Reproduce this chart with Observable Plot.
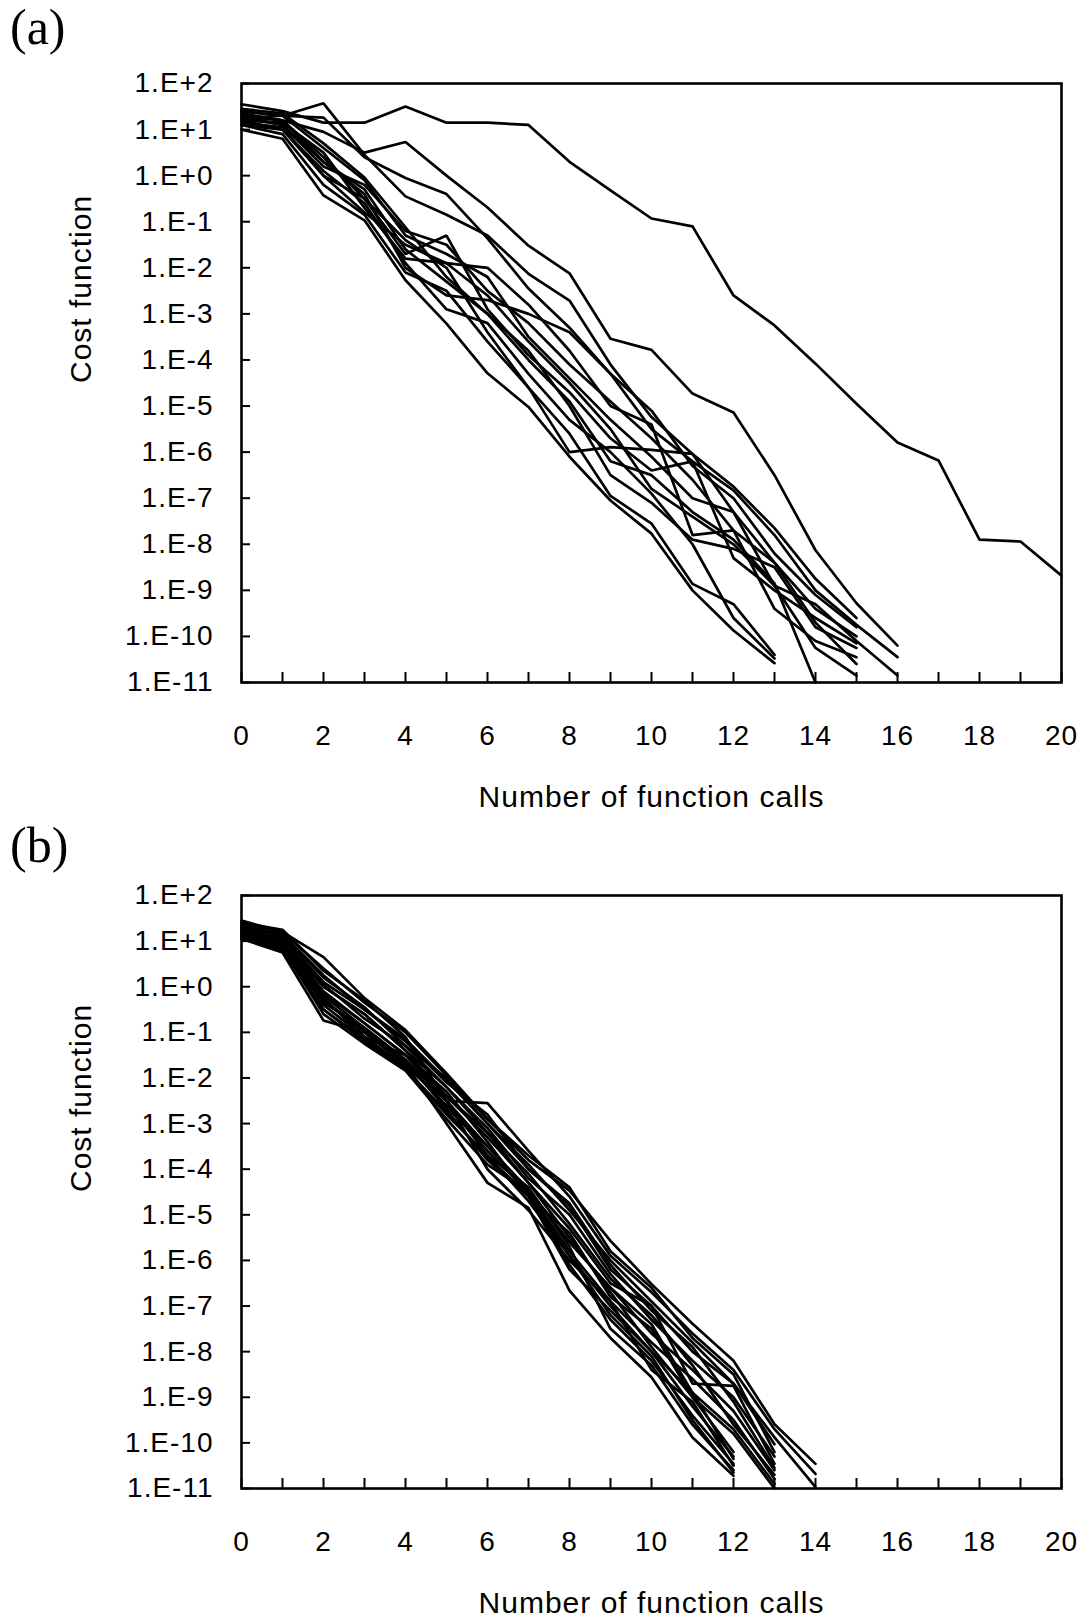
<!DOCTYPE html>
<html>
<head>
<meta charset="utf-8">
<script src="https://cdn.jsdelivr.net/npm/d3@7"></script>
<script src="https://cdn.jsdelivr.net/npm/@observablehq/plot@0.6"></script>
<style>
html, body { margin: 0; padding: 0; background: #fff; }
#page { position: relative; width: 1085px; height: 1623px; overflow: hidden; background: #fff; }
.panel-label { position: absolute; left: 10px; font-family: "Liberation Serif", "Times New Roman", serif; font-size: 50px; line-height: 1; color: #000; }
.panel { position: absolute; left: 0; }
.panel svg text { letter-spacing: 1px; }
</style>
</head>
<body>
<div id="page"></div>
<script>
// ---- axis ticks and labels ----
const xTicks = [0, 1, 2, 3, 4, 5, 6, 7, 8, 9, 10, 11, 12, 13, 14, 15, 16, 17, 18, 19, 20];
const xTickLabels = [0, 2, 4, 6, 8, 10, 12, 14, 16, 18, 20];
const yTicks = [1e2, 1e1, 1e0, 1e-1, 1e-2, 1e-3, 1e-4, 1e-5, 1e-6, 1e-7, 1e-8, 1e-9, 1e-10, 1e-11];
const yTickLabels = ["1.E+2", "1.E+1", "1.E+0", "1.E-1", "1.E-2", "1.E-3", "1.E-4", "1.E-5", "1.E-6", "1.E-7", "1.E-8", "1.E-9", "1.E-10", "1.E-11"];
const xTitle = "Number of function calls";
const yTitle = "Cost function";

// ---- panel (a): log10(cost function) after 0,1,2,... function calls, one array per run ----
const panelA = [
  [1.55, 1.4, 1.15, 1.15, 1.5, 1.15, 1.15, 1.1, 0.3, -0.32, -0.93, -1.1, -2.6, -3.25, -4.08, -4.95, -5.79, -6.18, -7.9, -7.94, -8.68],
  [1.3, 1.2, 0.95, 0.5, 0.73, 0.0, -0.69, -1.52, -2.12, -3.54, -3.78, -4.73, -5.14, -6.5, -8.13, -9.28, -10.2],
  [1.25, 1.3, 1.57, 0.45, -0.45, -0.85, -1.3, -2.13, -2.71, -4.1, -5.24, -6.04, -6.75, -7.65, -8.75, -9.6],
  [1.4, 1.3, 1.26, 0.4, -0.05, -0.4, -1.36, -2.45, -3.3, -4.3, -5.5, -6.2, -6.83, -7.8, -9.0, -9.75, -10.45],
  [1.0, 0.8, -0.43, -0.97, -2.27, -3.21, -4.29, -5.02, -6.1, -7.05, -7.77, -9.0, -9.87, -10.58],
  [1.1, 0.9, -0.2, -0.85, -2.1, -2.5, -3.6, -4.6, -5.6, -6.95, -7.55, -8.86, -9.3, -10.4],
  [1.2, 1.0, 0.1, -0.6, -1.9, -2.9, -3.2, -4.3, -5.3, -6.0, -6.9, -8.0, -9.6, -10.48],
  [1.3, 1.1, 0.3, -0.3, -1.6, -2.3, -3.0, -4.0, -4.9, -6.2, -6.5, -7.3, -7.9, -8.85, -11],
  [1.35, 1.2, 0.4, -0.5, -1.4, -2.0, -3.4, -4.6, -6.0, -5.89, -5.95, -6.04, -7.3, -8.4, -9.4, -10.0],
  [1.25, 1.1, 0.2, -0.2, -1.2, -1.5, -2.5, -3.2, -4.1, -4.9, -5.7, -6.6, -7.7, -8.4, -9.7, -10.6],
  [1.4, 1.3, 0.6, -0.1, -1.3, -1.7, -2.2, -3.5, -4.4, -5.3, -6.1, -7.0, -7.3, -8.9, -10.25, -10.85],
  [1.15, 1.05, 0.0, -0.5, -1.7, -1.3, -2.9, -3.9, -4.7, -5.7, -6.4, -6.2, -8.3, -9.0, -9.6, -10.15],
  [1.3, 1.2, 0.3, -0.4, -2.0, -2.6, -2.7, -3.0, -3.4, -4.3, -5.1, -6.3, -7.0, -8.2, -9.1, -9.8],
  [1.2, 1.15, 0.5, -0.7, -1.8, -1.9, -2.0, -2.8, -3.8, -5.0, -5.4, -7.8, -7.7, -9.4, -10.1, -10.45],
  [1.45, 1.35, 0.7, -0.04, -1.12, -2.2, -3.0, -3.8, -5.0, -6.5, -7.1, -7.9, -8.1, -8.5, -9.8, -10.25],
  [1.1, 1.0, 0.0, -0.8, -1.5, -1.9, -2.6, -3.6, -4.5, -5.5, -6.8, -7.4, -8.0, -8.9, -9.3, -10.1, -10.85]
];

// ---- panel (b) ----
const panelB = [
  [1.45, 1.2, 0.65, -0.25, -0.95, -1.9, -2.9, -3.8, -4.47, -5.57, -6.52, -7.39, -8.2, -9.59, -10.46],
  [1.4, 1.25, 0.35, -0.3, -1.1, -2.5, -2.55, -3.6, -4.6, -5.9, -6.7, -7.6, -8.4, -9.7, -10.68],
  [1.3, 1.15, 0.2, -0.45, -1.3, -2.0, -3.0, -3.9, -4.9, -6.0, -6.9, -7.8, -8.7, -9.88, -10.97],
  [1.35, 1.1, 0.1, -0.5, -1.2, -2.1, -2.8, -4.0, -4.8, -6.2, -7.0, -8.0, -8.7, -10.03],
  [1.25, 1.05, 0.0, -0.6, -1.4, -2.2, -3.1, -4.2, -5.0, -6.3, -7.3, -8.2, -9.0, -10.3],
  [1.2, 1.0, -0.1, -0.8, -1.5, -2.4, -3.3, -4.3, -5.3, -6.5, -7.0, -8.7, -8.75, -10.46],
  [1.15, 0.95, -0.2, -0.9, -1.6, -2.5, -3.5, -4.45, -5.6, -6.6, -7.6, -8.4, -9.3, -10.6],
  [1.1, 0.9, -0.3, -1.0, -1.7, -2.6, -3.6, -4.5, -5.8, -6.9, -7.8, -8.6, -9.5, -10.79],
  [1.3, 1.0, -0.4, -1.1, -1.5, -2.3, -3.4, -4.6, -5.4, -6.8, -7.5, -9.0, -9.8, -11.0],
  [1.2, 0.85, 0.05, -0.7, -1.3, -2.2, -3.2, -4.1, -5.2, -6.4, -7.2, -8.3, -9.6, -10.7],
  [1.05, 0.8, -0.5, -1.2, -1.8, -2.8, -3.7, -4.7, -5.9, -7.0, -8.0, -8.9, -9.7, -10.9],
  [1.4, 1.2, 0.4, -0.35, -1.0, -1.95, -2.9, -3.7, -4.4, -5.8, -6.6, -7.7, -8.5, -10.2],
  [1.35, 1.15, 0.25, -0.5, -1.15, -2.05, -3.0, -4.0, -4.75, -6.1, -7.1, -7.9, -9.1, -10.55],
  [1.1, 0.85, -0.6, -1.25, -1.84, -2.9, -3.9, -4.5, -6.1, -7.3, -8.2, -9.4, -10.46],
  [1.05, 0.75, -0.74, -1.0, -1.7, -3.0, -4.3, -4.85, -6.66, -7.7, -8.56, -9.88, -10.72],
  [1.15, 0.9, -0.35, -0.9, -1.6, -2.7, -3.8, -4.6, -6.2, -7.1, -8.0, -9.2, -10.3],
  [1.2, 0.95, -0.15, -0.8, -1.5, -2.5, -3.7, -4.4, -5.7, -7.5, -8.3, -9.6, -10.6],
  [1.25, 1.0, -0.25, -1.1, -1.75, -2.5, -4.0, -4.9, -6.0, -6.9, -8.4, -9.1, -10.5],
  [1.3, 1.1, 0.0, -0.6, -1.4, -2.4, -3.2, -4.3, -5.5, -6.7, -7.9, -9.0, -10.2],
  [1.2, 0.9, -0.5, -1.15, -1.8, -2.75, -3.75, -4.55, -5.9, -7.2, -8.1, -9.5, -10.65],
  [1.1, 0.8, -0.3, -0.95, -1.65, -2.65, -3.5, -4.45, -5.6, -6.6, -7.4, -8.9, -10.35]
];

function toRows(runs) {
  return runs.flatMap((vals, id) => vals.map((e, n) => ({ id, n, cost: Math.pow(10, e) })));
}

const FONT = "'Liberation Sans', Arial, Helvetica, sans-serif";

function makePanel(runs, height, marginBottom) {
  const width = 1085, mL = 241, mR = 24, mT = 83;
  const frameW = width - mL - mR;
  const frameH = height - mT - marginBottom;
  return Plot.plot({
    width, height,
    marginLeft: mL, marginRight: mR, marginTop: mT, marginBottom,
    x: { domain: [0, 20], label: null },
    y: { type: "log", domain: [1e-11, 1e2], label: null },
    style: { fontFamily: FONT, fontSize: "28px", color: "#000", background: "#fff", overflow: "visible" },
    marks: [
      Plot.ruleX(xTicks, { x: d => d, insetTop: frameH - 10, stroke: "#000", strokeWidth: 2 }),
      Plot.ruleY(yTicks, { y: d => d, insetRight: frameW - 9, stroke: "#000", strokeWidth: 2 }),
      Plot.line(toRows(runs), { x: "n", y: "cost", z: "id", stroke: "#000", strokeWidth: 2.7, strokeLinejoin: "miter" }),
      Plot.frame({ stroke: "#000", strokeWidth: 2.6 }),
      Plot.axisX(xTickLabels, { tickSize: 0, tickPadding: 43, tickFormat: d => String(d), fontSize: 28, label: null, fill: "#000" }),
      Plot.axisY(yTicks, { tickSize: 0, tickPadding: 28, tickFormat: d => yTickLabels[yTicks.indexOf(d)], fontSize: 28, label: null, fill: "#000" }),
      Plot.text([xTitle], { frameAnchor: "bottom", dy: 115, text: d => d, fontSize: 30, lineAnchor: "middle", fill: "#000" }),
      Plot.text([yTitle], { frameAnchor: "left", dx: -160, rotate: -90, text: d => d, fontSize: 30, lineAnchor: "middle", fill: "#000" })
    ]
  });
}

const page = document.getElementById("page");

const pa = document.createElement("div");
pa.className = "panel";
pa.style.top = "0px";
pa.appendChild(makePanel(panelA, 812, 130));
page.appendChild(pa);

const pb = document.createElement("div");
pb.className = "panel";
pb.style.top = "812px";
pb.appendChild(makePanel(panelB, 811, 135));
page.appendChild(pb);

const la = document.createElement("div");
la.className = "panel-label";
la.style.top = "2px";
la.textContent = "(a)";
page.appendChild(la);

const lb = document.createElement("div");
lb.className = "panel-label";
lb.style.top = "820px";
lb.textContent = "(b)";
page.appendChild(lb);
</script>
</body>
</html>
